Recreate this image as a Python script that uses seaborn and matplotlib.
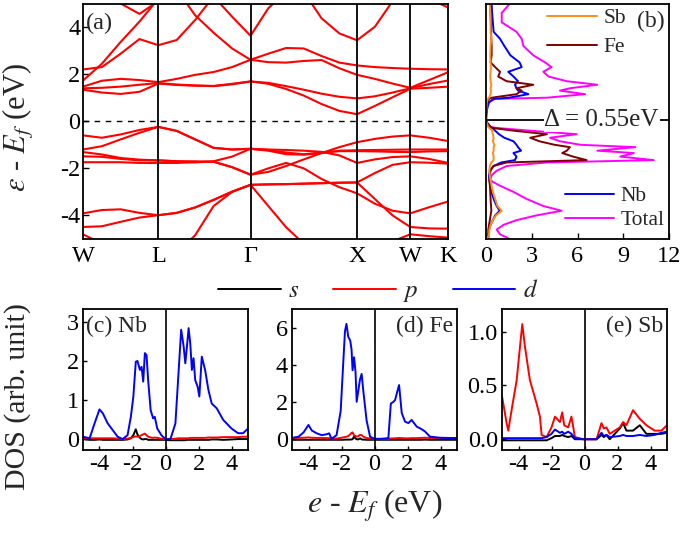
import matplotlib
matplotlib.use("Agg")
import matplotlib.pyplot as plt
import seaborn as sns
from matplotlib.lines import Line2D
from matplotlib.transforms import blended_transform_factory

# -----------------------------
# DATA: band structure (a)
# -----------------------------
kpath = [0.000, 0.177, 0.354, 0.530, 0.707, 0.880, 1.053, 1.226, 1.400, 1.573, 1.740,
         1.907, 2.073, 2.240, 2.407, 2.573, 2.740, 2.907, 3.073, 3.250, 3.427]
sym_k = [0.000, 0.707, 1.573, 2.573, 3.073, 3.427]
sym_labels = ['W', 'L', 'Γ', 'X', 'W', 'K']

cb1 = [1.34, 1.22, 1.16, 1.25, 1.60, 1.54, 1.51, 1.49, 1.57, 1.69, 1.59, 1.37, 1.09, 0.73, 0.44, 0.30, 0.65, 1.02, 1.38, 1.42, 1.47]
cb2 = [1.40, 1.42, 1.47, 1.55, 1.62, 1.56, 1.52, 1.50, 1.59, 1.69, 1.63, 1.49, 1.34, 1.17, 1.04, 0.97, 1.06, 1.22, 1.40, 1.58, 1.73]
cb3 = [1.47, 1.72, 1.80, 1.75, 1.66, 1.80, 1.97, 2.09, 2.30, 2.61, 2.51, 2.49, 2.56, 2.60, 2.25, 1.97, 1.80, 1.60, 1.42, 1.75, 2.08]
cb4 = [1.73, 2.44, 3.37, 4.23, 5.20, 5.60, 4.50, 3.76, 3.09, 2.61, 2.87, 3.11, 3.09, 2.77, 2.49, 2.37, 2.30, 2.26, 2.23, 2.21, 2.20]
cb5 = [2.20, 2.30, 2.87, 3.49, 3.23, 3.45, 4.30, 5.30, 4.44, 3.63, 4.80, 5.50, 5.50, 4.37, 3.73, 3.44, 4.01, 5.10, 5.80, 5.20, 4.83]
cb6 = [6.00, 5.50, 5.00, 4.56, 5.10, 5.80, 6.00, 6.00, 6.00, 6.00, 6.00, 6.00, 6.00, 6.00, 6.00, 6.00, 6.00, 6.00, 6.00, 6.00, 6.00]

vbA = [-0.60, -0.70, -0.56, -0.37, -0.24, -0.41, -0.77, -1.13, -1.20, -1.17, -1.25, -1.40, -1.42, -1.35, -1.25, -1.23, -1.22, -1.21, -1.20, -1.20, -1.20]
vbB = [-1.20, -1.06, -0.77, -0.49, -0.24, -0.41, -0.77, -1.13, -1.20, -1.17, -1.20, -1.22, -1.25, -1.30, -1.45, -1.77, -1.62, -1.52, -1.49, -1.60, -1.77]
vbC = [-1.31, -1.41, -1.56, -1.63, -1.66, -1.70, -1.74, -1.70, -1.50, -1.17, -1.22, -1.33, -1.40, -1.33, -1.27, -1.27, -1.28, -1.30, -1.31, -1.28, -1.27]
vbD = [-1.49, -1.51, -1.60, -1.66, -1.66, -1.70, -1.70, -1.72, -1.95, -2.27, -2.15, -1.90, -1.62, -1.35, -1.10, -0.89, -0.75, -0.65, -0.60, -0.70, -0.84]
vbE = [-1.74, -1.74, -1.74, -1.77, -1.77, -1.77, -1.74, -1.72, -1.95, -2.27, -2.00, -1.77, -2.00, -2.45, -2.80, -3.06, -3.50, -3.80, -3.91, -3.65, -3.41]
vbF = [-3.91, -3.77, -3.74, -3.89, -3.99, -3.89, -3.66, -3.34, -2.99, -2.70, -2.68, -2.67, -2.65, -2.63, -2.61, -2.60, -2.20, -1.85, -1.74, -1.76, -1.80]
vbG = [-4.49, -4.46, -4.27, -4.09, -3.99, -3.89, -3.66, -3.34, -2.99, -2.70, -2.68, -2.67, -2.65, -2.63, -2.61, -2.60, -3.30, -4.00, -4.49, -4.55, -4.56]
vbH = [-4.80, -5.20, -5.60, -5.90, -6.00, -5.60, -4.84, -3.60, -3.00, -2.70, -3.60, -4.50, -5.20, -5.80, -6.00, -6.00, -5.50, -5.10, -4.80, -4.88, -4.94]

# -----------------------------
# DATA: total / atom DOS (b)
# -----------------------------
dos_e = [5.0, 4.6, 4.2, 3.8, 3.5, 3.2, 2.8, 2.5, 2.3, 2.1,
         1.9, 1.7, 1.55, 1.4, 1.3, 1.15, 1.0, 0.95, 0.8, 0.6,
         0.3, 0.0, -0.25, -0.3, -0.4, -0.55, -0.7, -0.85, -1.0, -1.1,
         -1.25, -1.35, -1.5, -1.65, -1.75, -1.9, -2.1, -2.3, -2.5, -2.7,
         -3.0, -3.3, -3.6, -3.8, -4.0, -4.2, -4.4, -4.6, -4.8, -5.0]
dos_total = [1.57, 1.03, 1.03, 2.0, 2.34, 2.45, 3.1, 3.87, 4.3, 3.76,
             4.1, 5.3, 7.3, 5.5, 4.85, 6.5, 4.0, 0.6, 0.15, 0.08,
             0.02, 0.0, 0.26, 1.0, 2.9, 5.95, 4.2, 4.85, 6.2, 9.8,
             7.3, 9.7, 8.8, 11.0, 4.0, 1.36, 0.7, 0.37, 0.26, 0.8,
             1.8, 2.67, 3.76, 4.96, 3.3, 2.0, 1.14, 0.7, 0.92, 1.57]
dos_nb = [0.37, 0.4, 0.45, 0.5, 0.92, 1.2, 1.6, 2.2, 2.34, 1.46,
          1.8, 2.1, 1.9, 2.0, 2.1, 2.78, 1.5, 0.48, 0.2, 0.1,
          0.03, 0.0, 0.3, 0.45, 0.6, 0.85, 1.2, 1.8, 2.0, 2.1,
          2.3, 1.8, 2.0, 1.9, 1.0, 0.5, 0.25, 0.2, 0.22, 0.28,
          0.35, 0.5, 0.7, 0.9, 0.6, 0.45, 0.3, 0.2, 0.18, 0.2]
dos_fe = [0.3, 0.3, 0.32, 0.33, 0.35, 0.37, 0.37, 0.3, 0.6, 0.92,
          0.8, 1.35, 3.1, 2.0, 2.34, 2.0, 0.37, 0.2, 0.08, 0.04,
          0.01, 0.0, 0.3, 0.6, 1.8, 4.0, 2.9, 3.5, 4.5, 5.5,
          5.3, 5.0, 5.7, 6.6, 1.36, 0.48, 0.3, 0.25, 0.22, 0.25,
          0.28, 0.3, 0.33, 0.35, 0.3, 0.25, 0.2, 0.15, 0.15, 0.2]
dos_sb = [0.25, 0.28, 0.3, 0.3, 0.35, 0.3, 0.28, 0.3, 0.32, 0.3,
          0.28, 0.3, 0.35, 0.3, 0.33, 0.3, 0.2, 0.12, 0.05, 0.03,
          0.01, 0.0, 0.15, 0.25, 0.4, 0.45, 0.5, 0.45, 0.55, 0.5,
          0.5, 0.45, 0.5, 0.5, 0.35, 0.25, 0.22, 0.25, 0.3, 0.35,
          0.45, 0.6, 0.75, 1.03, 0.65, 0.45, 0.3, 0.22, 0.2, 0.2]

# -----------------------------
# DATA: partial DOS (c) Nb
# -----------------------------
nb_e = [-5.0, -4.6, -4.3, -4.0, -3.8, -3.5, -3.2, -2.9, -2.6, -2.3,
        -2.1, -1.95, -1.8, -1.7, -1.55, -1.45, -1.35, -1.25, -1.15, -1.05,
        -0.9, -0.75, -0.65, -0.5, -0.25, 0.0, 0.3, 0.6, 0.8, 0.95,
        1.1, 1.2, 1.3, 1.4, 1.5, 1.6, 1.7, 1.8, 1.95, 2.05,
        2.2, 2.4, 2.6, 2.8, 3.1, 3.5, 4.0, 4.4, 4.7, 5.0]
nb_d = [0.06, 0.02, 0.40, 0.76, 0.66, 0.40, 0.23, 0.06, 0.0, 0.10,
        0.57, 1.08, 1.98, 2.00, 1.77, 1.85, 1.47, 2.20, 2.15, 1.50,
        0.74, 0.53, 0.57, 0.27, 0.10, 0.0, 0.0, 0.40, 1.77, 2.80,
        2.37, 1.94, 2.37, 2.84, 2.45, 1.77, 2.07, 1.51, 1.34, 1.09,
        2.11, 1.77, 1.26, 0.91, 0.79, 0.49, 0.27, 0.15, 0.15, 0.27]
nb_p = [0.03, 0.02, 0.02, 0.02, 0.02, 0.02, 0.02, 0.01, 0.0, 0.01,
        0.03, 0.05, 0.07, 0.06, 0.08, 0.10, 0.12, 0.14, 0.10, 0.06,
        0.04, 0.03, 0.04, 0.03, 0.01, 0.0, 0.0, 0.01, 0.02, 0.02,
        0.02, 0.02, 0.02, 0.02, 0.03, 0.03, 0.03, 0.03, 0.03, 0.03,
        0.03, 0.03, 0.04, 0.04, 0.04, 0.05, 0.05, 0.05, 0.06, 0.06]
nb_s = [0.0, -0.02, -0.02, -0.01, -0.02, -0.02, -0.02, -0.02, -0.02, -0.01,
        0.02, 0.10, 0.25, 0.12, 0.03, 0.0, -0.01, 0.0, 0.0, -0.02,
        -0.02, -0.02, -0.02, -0.02, -0.02, -0.02, -0.03, -0.03, -0.03, -0.03,
        -0.03, -0.03, -0.02, -0.02, -0.02, -0.02, -0.02, -0.02, -0.02, -0.02,
        -0.02, -0.02, -0.02, -0.01, -0.01, -0.02, -0.01, 0.0, 0.0, 0.0]

# -----------------------------
# DATA: partial DOS (d) Fe
# -----------------------------
fe_e = [-5.0, -4.6, -4.3, -4.0, -3.8, -3.5, -3.2, -2.9, -2.75, -2.6,
        -2.3, -2.05, -1.9, -1.79, -1.70, -1.59, -1.47, -1.39, -1.33, -1.24,
        -1.15, -1.08, -0.98, -0.88, -0.78, -0.68, -0.58, -0.48, -0.27, 0.0,
        0.4, 0.84, 0.99, 1.15, 1.25, 1.35, 1.49, 1.65, 1.85, 2.05,
        2.25, 2.56, 2.8, 3.06, 3.36, 4.0, 4.5, 5.0]
fe_d = [0.05, 0.12, 0.35, 0.75, 0.45, 0.3, 0.2, 0.25, 0.3, 0.0,
        0.2, 1.5, 4.0, 5.8, 6.2, 5.5, 5.3, 4.8, 3.7, 4.4,
        3.6, 2.0, 2.6, 3.2, 3.5, 2.6, 1.8, 1.0, 0.12, 0.0,
        0.0, 0.04, 1.9, 2.0, 2.1, 2.45, 2.9, 1.4, 0.93, 0.85,
        1.02, 0.66, 0.55, 0.4, 0.12, 0.06, 0.05, 0.04]
fe_p = [0.05, 0.05, 0.06, 0.08, 0.06, 0.05, 0.05, 0.04, 0.04, 0.0,
        0.02, 0.05, 0.08, 0.10, 0.12, 0.15, 0.25, 0.32, 0.35, 0.20,
        0.15, 0.12, 0.15, 0.22, 0.20, 0.12, 0.08, 0.05, 0.02, 0.0,
        0.0, 0.0, 0.02, 0.03, 0.03, 0.04, 0.05, 0.04, 0.03, 0.03,
        0.04, 0.04, 0.05, 0.06, 0.05, 0.04, 0.04, 0.05]
fe_s = [-0.05, -0.05, -0.05, -0.05, -0.05, -0.05, -0.05, -0.05, -0.05, -0.05,
        -0.05, -0.05, -0.05, -0.04, -0.04, -0.04, -0.04, -0.03, -0.02, 0.12,
        0.02, -0.02, -0.03, 0.03, -0.03, -0.04, -0.04, -0.05, -0.05, -0.05,
        -0.05, -0.05, -0.05, -0.05, -0.05, -0.05, -0.05, -0.05, -0.05, -0.05,
        -0.05, -0.05, -0.05, -0.04, -0.05, -0.05, -0.05, -0.05]

# -----------------------------
# DATA: partial DOS (e) Sb
# -----------------------------
sb_e = [-5.0, -4.72, -4.62, -4.42, -4.11, -3.91, -3.77, -3.61, -3.31, -2.9,
        -2.7, -2.6, -2.3, -2.0, -1.79, -1.49, -1.35, -1.23, -0.99, -0.79,
        -0.58, -0.08, 0.73, 1.03, 1.17, 1.33, 1.53, 2.14, 2.34, 2.54,
        2.94, 3.35, 3.75, 4.25, 4.66, 5.0]
sb_p = [0.40, 0.15, 0.08, 0.27, 0.55, 0.86, 1.07, 0.86, 0.55, 0.33,
        0.21, 0.04, 0.02, 0.11, 0.21, 0.16, 0.25, 0.13, 0.11, 0.21,
        0.02, 0.0, 0.0, 0.15, 0.10, 0.11, 0.05, 0.11, 0.16, 0.13,
        0.27, 0.19, 0.13, 0.08, 0.08, 0.13]
sb_s = [-0.01, -0.01, -0.01, -0.01, -0.01, -0.01, -0.01, -0.01, -0.01, -0.01,
        -0.01, -0.01, -0.01, 0.01, 0.03, 0.03, 0.04, 0.03, 0.02, 0.03,
        0.0, 0.0, 0.0, 0.04, 0.02, 0.04, 0.0, 0.10, 0.15, 0.08,
        0.08, 0.13, 0.05, 0.05, 0.05, 0.06]
sb_d = [0.01, 0.01, 0.01, 0.01, 0.01, 0.01, 0.01, 0.01, 0.01, 0.01,
        0.01, 0.01, 0.02, 0.05, 0.09, 0.06, 0.07, 0.05, 0.07, 0.05,
        0.01, 0.0, 0.0, 0.06, 0.03, 0.04, 0.02, 0.03, 0.04, 0.03,
        0.03, 0.04, 0.03, 0.04, 0.06, 0.07]

# -----------------------------
# STYLE
# -----------------------------
sns.set_style("ticks")
plt.rcParams['font.family'] = ['Liberation Serif', 'DejaVu Serif']
plt.rcParams['mathtext.fontset'] = 'stix'
plt.rcParams['axes.unicode_minus'] = False
plt.rcParams['axes.linewidth'] = 1.3
plt.rcParams['axes.edgecolor'] = 'black'
plt.rcParams['xtick.direction'] = 'in'
plt.rcParams['ytick.direction'] = 'in'
plt.rcParams['xtick.color'] = 'black'
plt.rcParams['ytick.color'] = 'black'

c_band = '#ff0000'
c_sb = '#ff8c1a'
c_fe = '#7f0000'
c_nb = '#0000ff'
c_tot = '#ff00ff'
c_s, c_p, c_d = 'black', '#ff0000', '#0000ff'
LW = 1.4
TICK_FS = 17.5

W, H = 685, 537
fig = plt.figure(figsize=(W / 100, H / 100), dpi=100)


def rect(x0, y0, x1, y1):
    return [x0 / W, 1 - y1 / H, (x1 - x0) / W, (y1 - y0) / H]


# -----------------------------
# (a) BAND STRUCTURE
# -----------------------------
ax_a = fig.add_axes(rect(83, 3.5, 448, 239))
for band in [cb1, cb2, cb3, cb4, cb5, cb6, vbA, vbB, vbC, vbD, vbE, vbF, vbG, vbH]:
    sns.lineplot(x=kpath, y=band, ax=ax_a, color=c_band, linewidth=1.5,
                 estimator=None, sort=False, legend=False)
for k in sym_k[1:-1]:
    ax_a.axvline(k, color='black', lw=1.3)
ax_a.axhline(0, color='black', lw=1.0, ls=(0, (4, 4)))
ax_a.set_xlim(sym_k[0], sym_k[-1])
ax_a.set_ylim(-5, 5)
ax_a.set_xticks(sym_k)
ax_a.set_xticklabels(sym_labels)
ax_a.set_yticks([-4, -2, 0, 2, 4])
ax_a.tick_params(axis='x', length=0, pad=5, labelsize=TICK_FS)
ax_a.tick_params(axis='y', length=4, width=1, pad=2, labelsize=TICK_FS)
ax_a.set_xlabel('')
ax_a.set_ylabel('')
ax_a.text(0.008, 0.96, '(a)', transform=ax_a.transAxes, ha='left', va='top', fontsize=17.5)

# -----------------------------
# (b) DOS
# -----------------------------
ax_b = fig.add_axes(rect(486, 3.5, 669, 239))
for vals, col in [(dos_total, c_tot), (dos_nb, c_nb), (dos_fe, c_fe), (dos_sb, c_sb)]:
    sns.lineplot(x=vals, y=dos_e, ax=ax_b, color=col, linewidth=LW,
                 estimator=None, sort=False, legend=False)
ax_b.set_xlim(0, 12)
ax_b.set_ylim(-5, 5)
ax_b.set_xticks([0, 3, 6, 9, 12])
ax_b.set_yticks([])
ax_b.tick_params(axis='x', length=4, width=1, pad=5, labelsize=TICK_FS)
ax_b.set_xlabel('')
ax_b.set_ylabel('')

gap_tr = blended_transform_factory(ax_b.transAxes, ax_b.transData)
ax_b.axhline(0.05, color='black', lw=1.3)
ax_b.text(0.632, 0.05, 'Δ = 0.55eV', transform=gap_tr, ha='center', va='center',
          fontsize=18, bbox=dict(fc='white', ec='none', pad=0.5))
ax_b.text(0.975, 0.97, '(b)', transform=ax_b.transAxes, ha='right', va='top', fontsize=17)

leg1 = ax_b.legend([Line2D([], [], color=c_sb, lw=LW), Line2D([], [], color=c_fe, lw=LW)],
                   ['Sb', 'Fe'], loc='upper left', bbox_to_anchor=(0.335, 0.98),
                   frameon=False, fontsize=15.5, handlelength=2.3, handletextpad=0.3,
                   borderpad=0, borderaxespad=0, labelspacing=0.42)
ax_b.add_artist(leg1)
ax_b.legend([Line2D([], [], color=c_nb, lw=LW), Line2D([], [], color=c_tot, lw=LW)],
            ['Nb', 'Total'], loc='upper left', bbox_to_anchor=(0.43, 0.225),
            frameon=False, fontsize=15.5, handlelength=2.3, handletextpad=0.3,
            borderpad=0, borderaxespad=0, labelspacing=0.2)

# -----------------------------
# (c)-(e) PARTIAL DOS
# -----------------------------
panels = [
    (rect(83, 309, 248, 450), nb_e, nb_s, nb_p, nb_d, (-0.28, 3.33), [0, 1, 2, 3],
     ['0', '1', '2', '3'], '(c) Nb', 'left'),
    (rect(292, 309, 457, 450), fe_e, fe_s, fe_p, fe_d, (-0.6, 7.0), [0, 2, 4, 6],
     ['0', '2', '4', '6'], '(d) Fe', 'right'),
    (rect(502, 309, 667, 450), sb_e, sb_s, sb_p, sb_d, (-0.1, 1.21), [0, 0.5, 1.0],
     ['0.0', '0.5', '1.0'], '(e) Sb', 'right'),
]
for pos, e, s, p, d, ylim, yt, ytl, lab, side in panels:
    ax = fig.add_axes(pos)
    sns.lineplot(x=e, y=s, ax=ax, color=c_s, linewidth=LW, estimator=None, sort=False, legend=False)
    sns.lineplot(x=e, y=p, ax=ax, color=c_p, linewidth=LW, estimator=None, sort=False, legend=False)
    sns.lineplot(x=e, y=d, ax=ax, color=c_d, linewidth=LW, estimator=None, sort=False, legend=False)
    ax.axvline(0, color='black', lw=1.2)
    ax.set_xlim(-5, 5)
    ax.set_ylim(*ylim)
    ax.set_xticks([-4, -2, 0, 2, 4])
    ax.set_yticks(yt)
    ax.set_yticklabels(ytl)
    ax.tick_params(axis='both', length=3, width=1, pad=3, labelsize=TICK_FS)
    ax.set_xlabel('')
    ax.set_ylabel('')
    if side == 'left':
        ax.text(0.02, 0.95, lab, transform=ax.transAxes, ha='left', va='top', fontsize=17)
    else:
        ax.text(0.975, 0.95, lab, transform=ax.transAxes, ha='right', va='top', fontsize=17)

# orbital legend
fig.legend([Line2D([], [], color=c_s, lw=LW), Line2D([], [], color=c_p, lw=LW),
            Line2D([], [], color=c_d, lw=LW)],
           ['$s$', '$p$', '$d$'], loc='center', bbox_to_anchor=(378 / W, 1 - 292 / H),
           ncol=3, frameon=False, fontsize=18, handlelength=2.5, handletextpad=0.3,
           columnspacing=1.35, borderpad=0)

# axis titles
fig.text(19 / W, 1 - 127 / H, r'$\varepsilon$ - $E_f$ (eV)', rotation=90,
         ha='center', va='center', fontsize=22)
fig.text(18 / W, 1 - 397 / H, 'DOS (arb. unit)', rotation=90,
         ha='center', va='center', fontsize=21.5)
fig.text(375 / W, 1 - 506 / H, r'$e$ - $E_f$ (eV)', ha='center', va='center', fontsize=23)

fig.savefig('out.png', dpi=100)
